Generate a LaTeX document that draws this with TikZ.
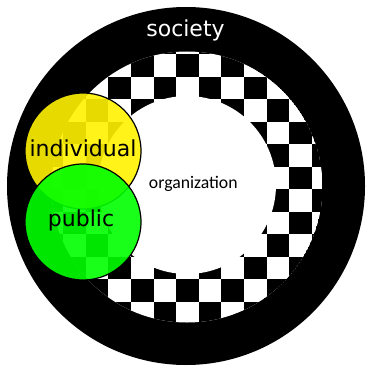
\documentclass[tikz,border=0pt]{standalone}
\usepackage{fontspec}
\setmainfont{DejaVu Sans}
\newfontfamily\orgfont{Carlito}
\tikzset{ringnode/.style={circle,draw=black,line width=1.2pt,minimum size=116pt,inner sep=0pt,fill opacity=0.9}}
\tikzset{labelnode/.style={anchor=base,inner sep=0pt,font=\fontsize{22}{22}\selectfont}}

\begin{document}
\begin{tikzpicture}[x=1pt,y=-1pt]
          \useasboundingbox (0,0) rectangle (365,366);

          % Societe
          \fill[black] (186,186) circle (179pt);

          % Damier
          \begin{scope}
              \clip (187,187) circle (135.5pt);
              \fill[white] (187,187) circle (135.5pt);
              \foreach \i in {0,...,14}{
                  \foreach \j in {0,...,14}{
                      \pgfmathtruncatemacro{\odd}{mod(\i+\j,2)}
                      \ifnum\odd=1
                          \fill[black] (17.9+22.6*\i,9.2+22.5*\j) rectangle ++(22.6,22.5);
                      \fi
                  }
              }
          \end{scope}

          % Organisation
          \fill[white] (187,185) circle (89pt);

          % Cercles
          \node [ringnode,fill=yellow] (indiv) at (83,151) {};
          \node [ringnode,fill=green] (pub) at (83,222) {};

          % Textes
          \node [labelnode,text=white] (soc) at (185.5,36.7) {society};
          \node [labelnode] (indivtxt) at (83,156.7) {individual};
          \node [labelnode] (pubtxt) at (81,226) {public};
          \node [anchor=base,inner sep=0pt,font=\orgfont\fontsize{17.7}{17.7}\selectfont] (org) at (193.3,188) {organization};
\end{tikzpicture}
\end{document}
